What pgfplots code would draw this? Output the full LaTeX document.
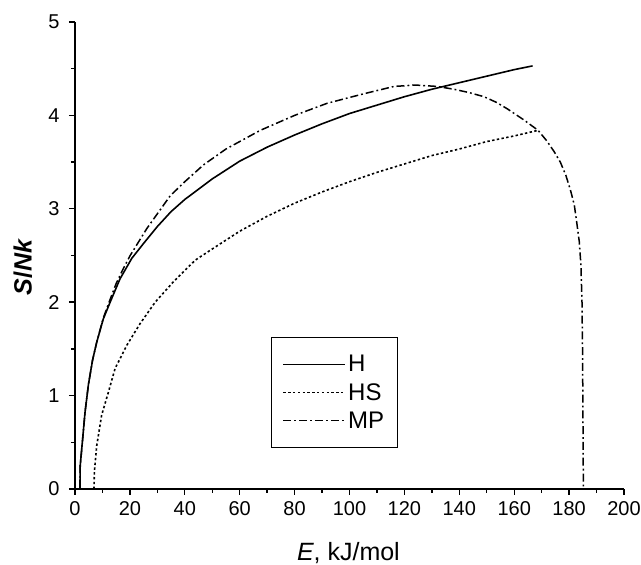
\documentclass[border=0pt]{standalone}
\usepackage{pgfplots}
\pgfplotsset{compat=1.18}
\usepackage{fontspec}
\setmainfont{Liberation Sans}
\pgfplotsset{longleg/.style={legend image code/.code={\draw[##1] (0pt,0pt) -- (62pt,0pt);}}}
\newcommand{\lf}{\fontsize{24}{28}\selectfont}
\begin{document}
\begin{tikzpicture}[x=1pt,y=1pt]
\path[use as bounding box] (-75pt,-76pt) rectangle (566pt,489pt);
\begin{axis}[
  at={(0pt,0pt)}, anchor=origin,
  scale only axis,
  width=549pt, height=467pt,
  xmin=0, xmax=200, ymin=0, ymax=5,
  axis lines*=left,
  axis line style={line width=1.5pt},
  tick align=outside,
  major tick length=6pt, minor tick length=4pt,
  tick style={line width=1.4pt, black},
  xtick={0,20,...,200}, ytick={0,1,...,5},
  minor x tick num=1, minor y tick num=1,
  /pgf/number format/assume math mode=true,
  tick label style={font=\fontsize{20}{24}\selectfont},
  xticklabel style={yshift=-3pt},
  yticklabel style={xshift=-6pt},
  xlabel={\textit{E}, kJ/mol},
  ylabel={\textbf{\textit{S}/\textit{Nk}}},
  xlabel style={font=\fontsize{25}{30}\selectfont, at={(axis description cs:0.498,-0.137)}, anchor=center},
  ylabel style={font=\fontsize{25}{30}\selectfont, at={(axis description cs:-0.095,0.475)}, anchor=center},
  legend style={at={(axis cs:71.4,1.63)}, anchor=north west, draw=black, line width=1.2pt,
    font=\lf, nodes={font=\lf}, inner xsep=11pt, inner ysep=16pt, row sep=6pt},
  legend cell align=left,
]
\addplot[black, line width=1.6pt, longleg] coordinates {
(1.8,0) (1.9,0.25) (2.8,0.54) (3.65,0.82) (4.9,1.12) (6.4,1.38) (7.9,1.57)
(10.3,1.82) (12.8,2.0) (16.4,2.25) (20.7,2.47) (25,2.63) (30,2.81) (35,2.97)
(40,3.10) (50,3.32) (60,3.51) (70,3.66) (80,3.79) (90,3.91) (100,4.02)
(110,4.11) (120,4.20) (130,4.28) (140,4.35) (150,4.42) (160,4.49) (166.7,4.53)
};
\addlegendentry{\lf H}
\addplot[black, line width=1.6pt, dash pattern=on 2.4pt off 2.4pt, longleg] coordinates {
(6.9,0) (7.1,0.2) (7.9,0.46) (9.7,0.79) (12.2,1.04) (14.6,1.29) (18.9,1.54)
(23.7,1.77) (29.2,2.0) (35.9,2.22) (43.8,2.45) (50,2.57) (60,2.76) (70,2.92)
(80,3.06) (90,3.18) (100,3.29) (110,3.39) (120,3.48) (130,3.57) (140,3.64)
(150,3.72) (160,3.78) (168.7,3.84)
};
\addlegendentry{\lf HS}
\addplot[black, line width=1.5pt, dash pattern=on 8pt off 3pt on 1.8pt off 3pt, longleg] coordinates {
(1.8,0) (1.9,0.25) (2.8,0.54) (3.65,0.82) (4.9,1.12) (6.4,1.38) (7.9,1.57)
(10.3,1.83) (12.8,2.03) (15,2.2) (17.6,2.36) (20.1,2.50) (26.2,2.79) (34.7,3.14)
(40,3.29) (46.8,3.47) (55,3.64) (60,3.72) (67.5,3.84) (80,4.0) (91.9,4.13) (105,4.23)
(116.2,4.31) (124,4.325) (132,4.31) (138,4.28) (143.5,4.245) (149,4.20) (153.5,4.14) (157.5,4.07)
(163.6,3.95) (168.7,3.84) (171.8,3.73) (174.6,3.61) (176.8,3.5) (178.8,3.36)
(180.5,3.2) (181.9,3.04) (182.8,2.85) (183.7,2.65) (184.3,2.4) (184.7,2.0)
(184.9,1.5) (185.0,1.0) (185.1,0.5) (185.2,0)
};
\addlegendentry{\lf MP}
\end{axis}
\end{tikzpicture}
\end{document}
